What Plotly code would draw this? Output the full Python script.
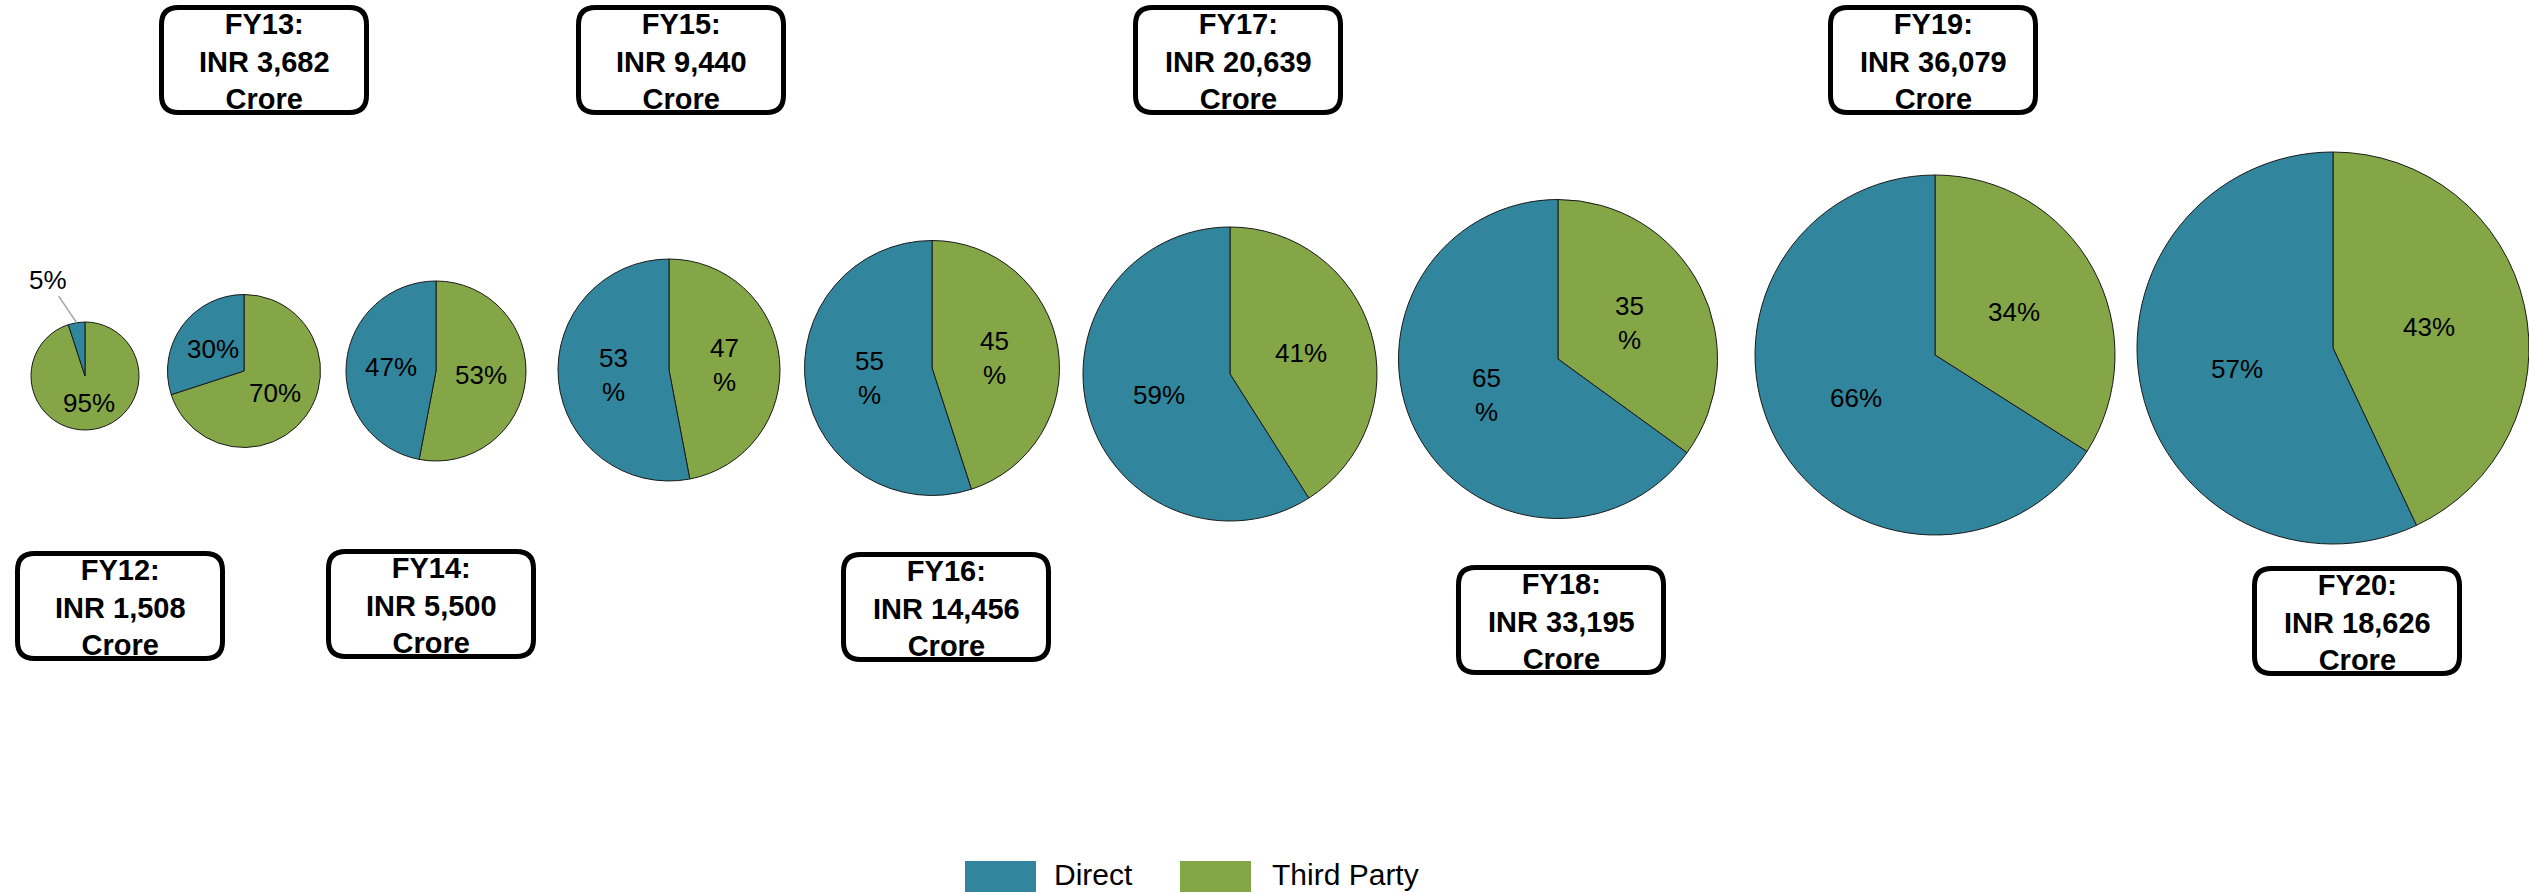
import math
import plotly.graph_objects as go

W, H = 2529, 892

# ---------------- data ----------------
years = ["FY12", "FY13", "FY14", "FY15", "FY16", "FY17", "FY18", "FY19", "FY20"]
totals_inr_crore = [1508, 3682, 5500, 9440, 14456, 20639, 33195, 36079, 18626]
segments = ["Direct", "Third Party"]
direct_pct = [5, 30, 47, 53, 55, 59, 65, 66, 57]
third_party_pct = [95, 70, 53, 47, 45, 41, 35, 34, 43]

# ---------------- layout (pixels) ----------------
pie_cx = [85, 244, 436, 669, 932, 1230, 1558, 1935, 2333]
pie_cy = [376, 371, 371, 370, 368, 374, 359, 355, 348]
pie_r = [54, 76.5, 90, 111, 127.5, 147, 159.5, 180, 196]
box_cx = [120, 264, 431, 681, 946, 1238, 1561, 1933, 2357]
box_cy = [606, 60, 604, 60, 607, 60, 620, 60, 621]
box_w, box_h, box_rad, box_lw = 210, 110, 17, 5
wrap_label = [False, False, False, True, True, False, True, False, False]

COLORS = {"Direct": "#31859C", "Third Party": "#84A646"}
FONT = "Liberation Sans, Arial, sans-serif"


def px(x):
    return x / W


def py(y):
    return 1 - y / H


fig = go.Figure()
annotations = []
shapes = []

for i, yr in enumerate(years):
    vals = [direct_pct[i], third_party_pct[i]]
    cx, cy, r = pie_cx[i], pie_cy[i], pie_r[i]
    # plotly's counterclockwise mode puts the first slice just clockwise of
    # 12 o'clock, so list Third Party first to get Direct on the left
    order = [1, 0]
    fig.add_trace(go.Pie(
        labels=[segments[k] for k in order],
        values=[vals[k] for k in order],
        sort=False,
        direction="counterclockwise",
        rotation=0,
        marker=dict(colors=[COLORS[segments[k]] for k in order],
                    line=dict(color="#1a1a1a", width=1)),
        textinfo="none",
        hovertemplate=yr + " %{label}: %{value}%<extra></extra>",
        showlegend=False,
        domain=dict(x=[max(0, px(cx - r)), min(1, px(cx + r))],
                    y=[max(0, py(cy + r)), min(1, py(cy - r))]),
        name=yr,
    ))

    # slice labels, placed from the data angles (Direct ccw from 12 o'clock)
    tot = sum(vals)
    start = 0.0
    for v in vals:
        f = v / tot
        mid = 2 * math.pi * (start + f / 2)
        dx, dy = -math.sin(mid), -math.cos(mid)
        start += f
        txt = f"{v}<br>%" if wrap_label[i] else f"{v}%"
        if f < 0.1:
            ex, ey = cx + r * dx, cy + r * dy
            annotations.append(dict(
                x=px(ex), y=py(ey), xref="paper", yref="paper",
                text=f"{v}%", showarrow=True, arrowhead=0, arrowwidth=1.6,
                arrowcolor="#A6A6A6", ax=-29, ay=-43, standoff=0,
                font=dict(family=FONT, size=26, color="#000000"),
            ))
        else:
            lx, ly = cx + 0.5 * r * dx, cy + 0.5 * r * dy
            annotations.append(dict(
                x=px(lx), y=py(ly), xref="paper", yref="paper",
                text=txt, showarrow=False, xanchor="center", yanchor="middle",
                font=dict(family=FONT, size=26, color="#000000"),
            ))

    # rounded label box
    bx, by = box_cx[i], box_cy[i]
    inset = box_lw / 2
    x0, x1 = bx - box_w / 2 + inset, bx + box_w / 2 - inset
    y0, y1 = by - box_h / 2 + inset, by + box_h / 2 - inset
    rr = box_rad
    pts = [
        ("M", (x0 + rr, y0)), ("L", (x1 - rr, y0)),
        ("Q", (x1, y0), (x1, y0 + rr)), ("L", (x1, y1 - rr)),
        ("Q", (x1, y1), (x1 - rr, y1)), ("L", (x0 + rr, y1)),
        ("Q", (x0, y1), (x0, y1 - rr)), ("L", (x0, y0 + rr)),
        ("Q", (x0, y0), (x0 + rr, y0)),
    ]
    path = ""
    for seg in pts:
        cmd = seg[0]
        coords = " ".join(f"{px(a):.6f},{py(b):.6f}" for a, b in seg[1:])
        path += f"{cmd} {coords} "
    path += "Z"
    shapes.append(dict(type="path", path=path, xref="paper", yref="paper",
                       line=dict(color="#000000", width=box_lw),
                       fillcolor="#FFFFFF", layer="below"))
    annotations.append(dict(
        x=px(bx), y=py(by + 1), xref="paper", yref="paper",
        text=f"<b>{yr}:<br>INR {totals_inr_crore[i]:,}<br>Crore</b>",
        showarrow=False, xanchor="center", yanchor="middle", align="center",
        font=dict(family=FONT, size=29, color="#000000"),
    ))

# ---------------- manual legend ----------------
legend_items = [("Direct", 965, 1052), ("Third Party", 1180, 1270)]
for name, sx, tx in legend_items:
    shapes.append(dict(type="rect", xref="paper", yref="paper",
                       x0=px(sx), x1=px(sx + 71), y0=py(892), y1=py(861),
                       fillcolor=COLORS[name], line=dict(width=0)))
    annotations.append(dict(
        x=px(tx), y=py(874), xref="paper", yref="paper", text=name,
        showarrow=False, xanchor="left", yanchor="middle",
        font=dict(family=FONT, size=30, color="#000000"),
    ))

fig.update_layout(
    width=W, height=H,
    margin=dict(l=0, r=0, t=0, b=0),
    paper_bgcolor="#FFFFFF",
    plot_bgcolor="#FFFFFF",
    showlegend=False,
    shapes=shapes,
    annotations=annotations,
)

fig.write_html("out.html", config={"displayModeBar": False})
